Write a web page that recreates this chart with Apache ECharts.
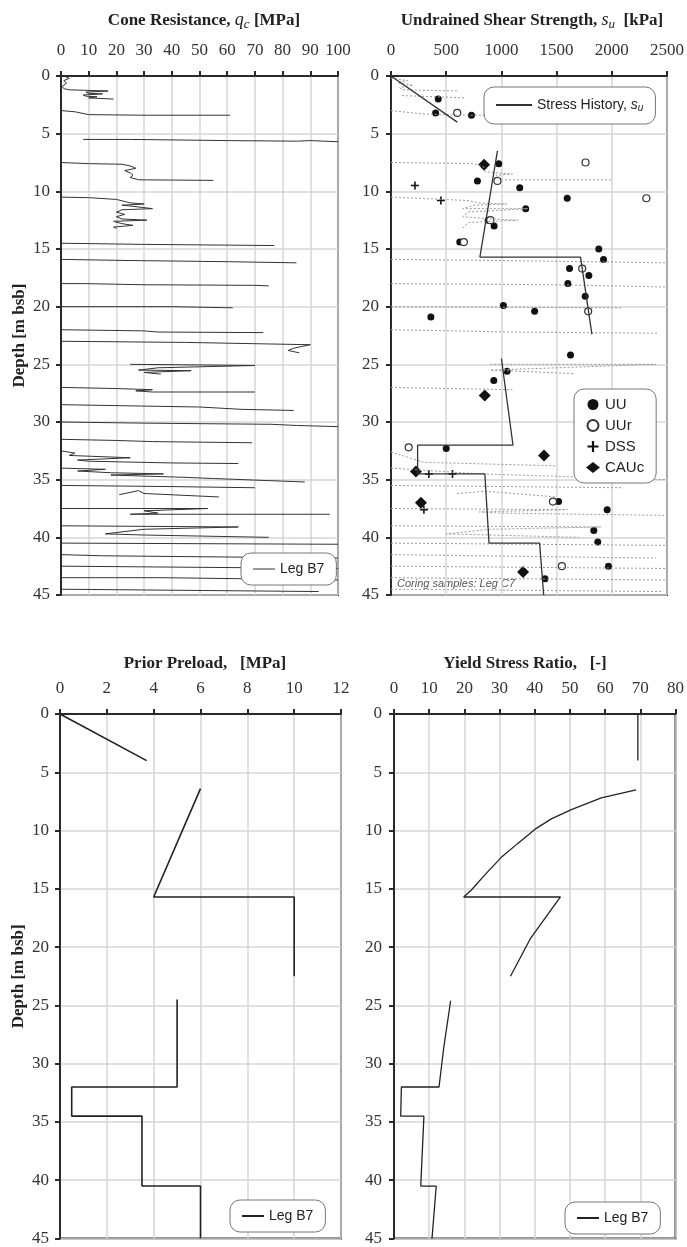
<!DOCTYPE html>
<html>
<head>
<meta charset="utf-8">
<script src="https://cdn.jsdelivr.net/npm/echarts@6/dist/echarts.min.js"></script>
<style>
html, body { margin: 0; padding: 0; background: #fff; }
#chart { width: 687px; height: 1247px; }
</style>
</head>
<body>
<div id="chart"></div>
<script>
// depth ticks shared by all four panels
var depthMin = 0, depthMax = 45, depthStep = 5;

// cone resistance trace, Leg B7 : [qc MPa, depth m], null = break between pushes
var coneProfile = [
  [1,0],[3,0.2],[1,0.4],[2,0.6],[0.5,0.9],[1,1.1],[3,1.2],[17,1.3],[9,1.4],[10,1.5],[15,1.55],[8,1.65],[9,1.75],[13,1.8],[10,1.9],[19,2.0], null,
  [0,3.0],[5,3.1],[9,3.3],[10,3.35],[30,3.4],[61,3.4], null,
  [8,5.5],[25,5.5],[60,5.6],[85,5.65],[90,5.6],[100,5.7], null,
  [0,7.5],[10,7.6],[22,7.65],[25,7.8],[27,8.0],[23,8.2],[25,8.4],[26,8.6],[25,8.8],[28,9.0],[55,9.05], null,
  [0,10.5],[10,10.55],[20,10.7],[25,11.0],[30,11.1],[22,11.2],[26,11.3],[33,11.5],[22,11.6],[20,11.8],[23,12.0],[20,12.2],[22,12.4],[31,12.5],[19,12.6],[22,12.8],[26,12.95],[19,13.1],[20,13.2], null,
  [0,14.5],[30,14.6],[77,14.7], null,
  [0,15.9],[25,16.0],[43,16.05],[60,16.1],[85,16.2], null,
  [0,18.0],[8,18.0],[30,18.1],[70,18.15],[75,18.2], null,
  [0,20.0],[40,20.0],[62,20.1], null,
  [0,22.0],[30,22.1],[35,22.2],[73,22.25], null,
  [0,23.0],[45,23.1],[90,23.3],[84,23.6],[82,23.8],[86,24.0], null,
  [25,25.0],[50,25.05],[70,25.1],[35,25.3],[28,25.5],[47,25.55],[30,25.7],[36,25.85], null,
  [0,27.0],[20,27.1],[33,27.2],[27,27.3],[33,27.4],[70,27.4], null,
  [0,28.5],[25,28.6],[50,28.7],[65,28.9],[84,29.0], null,
  [0,30.0],[30,30.1],[76,30.2],[85,30.3],[100,30.4], null,
  [0,31.5],[20,31.6],[33,31.7],[69,31.8], null,
  [0,32.5],[5,32.7],[3,32.9],[25,33.1],[6,33.3],[10,33.4],[40,33.55],[64,33.6], null,
  [0,34.0],[16,34.1],[6,34.25],[18,34.4],[37,34.5],[18,34.6],[45,34.8],[55,34.9],[88,35.2], null,
  [0,35.5],[40,35.6],[70,35.7], null,
  [21,36.3],[28,35.95],[30,36.2],[57,36.5], null,
  [0,37.5],[53,37.5],[30,37.7],[35,37.9],[25,38.0],[97,38.0], null,
  [0,39.0],[64,39.1],[30,39.3],[16,39.7],[30,39.8],[75,40.0], null,
  [0,40.5],[100,40.6], null,
  [0,41.5],[15,41.6],[100,41.8], null,
  [0,42.5],[100,42.7], null,
  [0,43.5],[37,43.5],[100,43.7], null,
  [0,44.5],[93,44.7]
];

// CPT derived su (grey dotted background) : [su kPa, depth m]
var suProfile = [
  [0,0.2],[150,0.4],[60,0.6],[200,0.8],[80,1.0],[100,1.2],[600,1.3], null,
  [100,1.7],[400,1.8],[680,1.9], null,
  [0,3.0],[300,3.3],[700,3.4],[970,3.4], null,
  [0,7.5],[750,7.6],[870,8.0],[850,8.3],[1100,8.5],[950,8.6],[1010,9.0],[2010,9.0], null,
  [0,10.5],[700,10.8],[800,11.0],[1050,11.1],[750,11.2],[650,11.5],[1240,11.5],[700,11.8],[650,12.2],[900,12.4],[1150,12.5],[700,12.7],[650,13.2], null,
  [0,15.9],[1000,16.0],[2500,16.2], null,
  [0,18.0],[1500,18.1],[2500,18.3], null,
  [0,20.0],[2100,20.1], null,
  [0,22.0],[1100,22.2],[2430,22.3], null,
  [900,25.0],[2400,25.0],[900,25.5],[1650,25.8], null,
  [0,27.0],[1100,27.2], null,
  [0,32.6],[300,33.5],[1500,33.8], null,
  [0,34.0],[800,34.5],[2500,35.0], null,
  [0,35.5],[2100,35.7], null,
  [600,36.2],[850,36.0],[1500,36.5], null,
  [0,37.5],[1600,37.6],[800,37.8],[1000,37.9],[2480,38.1], null,
  [0,39.0],[1900,39.1],[900,39.3],[500,39.7],[1700,40.0], null,
  [0,40.5],[2500,40.7], null,
  [0,41.5],[2400,41.8], null,
  [0,42.5],[2500,42.7], null,
  [0,43.5],[2500,43.7], null,
  [0,44.5],[2450,44.7]
];

// stress history su profile : [su kPa, depth m]
var stressHistory = [
  [0,0],[600,4.0], null,
  [964,6.5],[805,15.7],[1717,15.7],[1820,22.4], null,
  [1000,24.5],[1105,32.0],[241,32.0],[241,34.5],[850,34.5],[888,40.5],[1346,40.5],[1383,45]
];

// lab tests (coring samples, Leg C7)
var uuSu    = [428,404,729,976,783,1166,1596,1220,880,934,623,1882,1925,1617,1792,1602,1759,1018,361,1301,1626,1051,931,500,1518,1958,1837,1873,1970,1395];
var uuDepth = [2.0,3.2,3.4,7.6,9.1,9.7,10.6,11.5,12.5,13.0,14.4,15.0,15.9,16.7,17.3,18.0,19.1,19.9,20.9,20.4,24.2,25.6,26.4,32.3,36.9,37.6,39.4,40.4,42.5,43.6];
var uurSu    = [600,1762,964,2313,900,660,1732,1786,160,1467,1548];
var uurDepth = [3.2,7.5,9.1,10.6,12.5,14.4,16.7,20.4,32.2,36.9,42.5];
var dssSu    = [217,452,343,557,298];
var dssDepth = [9.5,10.8,34.5,34.5,37.6];
var caucSu    = [843,849,1386,226,271,1196];
var caucDepth = [7.7,27.7,32.9,34.3,37.0,43.0];

// prior preload [MPa, depth m]
var preload = [
  [0,0],[3.7,4.0], null,
  [6.0,6.4],[4.0,15.7],[10.0,15.7],[10.0,22.5], null,
  [5.0,24.5],[5.0,32.0],[0.5,32.0],[0.5,34.5],[3.5,34.5],[3.5,40.5],[6.0,40.5],[6.0,45]
];

// yield stress ratio [-, depth m]
var yieldRatio = [
  [69.3,0],[69.3,4.0], null,
  [68.8,6.5],[58.9,7.2],[50.4,8.2],[44.7,9.0],[40.0,9.9],[35.2,11.1],[30.5,12.3],[25.8,13.8],[22.0,15.1],[19.8,15.7],[47.3,15.7],[38.7,19.3],[33.1,22.5], null,
  [16.1,24.6],[14.1,28.7],[12.8,32.0],[2.1,32.0],[1.9,34.5],[8.5,34.5],[7.6,40.5],[12.0,40.5],[10.8,45]
];

function zip(xs, ys) {
  return xs.map(function (x, i) { return [x, ys[i]]; });
}

var serif = '"Liberation Serif", "DejaVu Serif", serif';
var sans = '"Liberation Sans", Arial, sans-serif';
var ink = '#2a2a2a';
var plain = function (v) { return String(v); };

function xAx(idx, max, step, margin) {
  return {
    gridIndex: idx, type: 'value', position: 'top',
    min: 0, max: max, interval: step,
    axisLine: { show: true, lineStyle: { color: ink, width: 2 } },
    axisTick: { show: true, length: 5, lineStyle: { color: ink, width: 2 } },
    axisLabel: { margin: margin, fontFamily: serif, fontSize: 17, color: '#333', formatter: plain },
    splitLine: { show: true, lineStyle: { color: '#d6d6d6', width: 1.5 } }
  };
}
function yAx(idx, name, margin) {
  return {
    gridIndex: idx, type: 'value', inverse: true,
    min: depthMin, max: depthMax, interval: depthStep,
    name: name, nameLocation: 'middle', nameGap: 33, nameRotate: 90,
    nameTextStyle: { fontFamily: serif, fontSize: 17, fontWeight: 'bold', color: '#222' },
    axisLine: { show: true, lineStyle: { color: ink, width: 2 } },
    axisTick: { show: true, length: 5, lineStyle: { color: ink, width: 2 } },
    axisLabel: { margin: margin, fontFamily: serif, fontSize: 17, color: '#333', formatter: plain },
    splitLine: { show: true, lineStyle: { color: '#d6d6d6', width: 1.5 } }
  };
}

var legendBox = {
  backgroundColor: '#fff', borderColor: '#777', borderWidth: 1, borderRadius: 10,
  padding: [9, 12], itemWidth: 22, itemHeight: 2, icon: 'rect',
  textStyle: { fontFamily: sans, fontSize: 14, color: '#222' }
};
function legend(extra) { return Object.assign({}, legendBox, extra); }

var titleRich = {
  i: { fontFamily: serif, fontSize: 18, fontStyle: 'italic', fontWeight: 'normal', color: '#222' },
  sub: { fontFamily: serif, fontSize: 13, fontStyle: 'italic', fontWeight: 'normal', color: '#222', padding: [8, 0, 0, 0] }
};
function title(text, x, y) {
  return {
    text: text, left: x, top: y, textAlign: 'center',
    textStyle: { fontFamily: serif, fontSize: 17, fontWeight: 'bold', color: '#222', rich: titleRich }
  };
}

var myChart = echarts.init(document.getElementById('chart'));

var option = {
  backgroundColor: '#fff',
  animation: false,
  title: [
    title('Cone Resistance, {i|q}{sub|c} [MPa]', 199, 5),
    title('Undrained Shear Strength, {i|s}{sub|u}  [kPa]', 527, 5),
    title('Prior Preload,   [MPa]', 200, 650),
    title('Yield Stress Ratio,   [-]', 520, 650)
  ],
  grid: [
    { left: 61, top: 76, width: 277, height: 519, show: true, borderColor: ink, borderWidth: 2 },
    { left: 391, top: 76, width: 277, height: 519, show: true, borderColor: ink, borderWidth: 2 },
    { left: 60, top: 714, width: 281, height: 527, show: true, borderColor: ink, borderWidth: 2 },
    { left: 394, top: 714, width: 282, height: 527, show: true, borderColor: ink, borderWidth: 2 }
  ],
  xAxis: [
    xAx(0, 100, 10, 17),
    xAx(1, 2500, 500, 17),
    xAx(2, 12, 2, 17),
    xAx(3, 80, 10, 17)
  ],
  yAxis: [
    yAx(0, 'Depth [m bsb]', 11),
    yAx(1, '', 12),
    yAx(2, 'Depth [m bsb]', 11),
    yAx(3, '', 12)
  ],
  legend: [
    legend({ data: ['qc'], left: 241, top: 553, formatter: function () { return 'Leg B7'; } }),
    legend({
      data: ['Stress History'], left: 484, top: 87, padding: [11, 12], itemWidth: 36,
      formatter: function () { return 'Stress History, {s|s}{u|u}'; },
      textStyle: {
        fontFamily: sans, fontSize: 14, color: '#222',
        rich: {
          s: { fontFamily: sans, fontSize: 14, fontStyle: 'italic', color: '#222' },
          u: { fontFamily: sans, fontSize: 10, fontStyle: 'italic', color: '#222', padding: [6, 0, 0, 0] }
        }
      }
    }),
    {
      data: ['UU', 'UUr', 'DSS', 'CAUc'], orient: 'vertical', left: 574, top: 389,
      backgroundColor: '#fff', borderColor: '#777', borderWidth: 1, borderRadius: 10,
      padding: [8, 12], itemGap: 6, itemWidth: 14, itemHeight: 11,
      textStyle: { fontFamily: sans, fontSize: 15, color: '#222' }
    },
    legend({ data: ['preload'], left: 230, top: 1200, formatter: function () { return 'Leg B7'; } }),
    legend({ data: ['ysr'], left: 565, top: 1202, formatter: function () { return 'Leg B7'; } })
  ],
  graphic: [
    {
      type: 'text', left: 397, top: 578,
      style: { text: 'Coring samples: Leg C7', fontFamily: sans, fontSize: 11, fontStyle: 'italic', fill: '#555' }
    }
  ],
  series: [
    {
      name: 'qc', type: 'line', xAxisIndex: 0, yAxisIndex: 0, data: coneProfile,
      symbol: 'none', connectNulls: false,
      lineStyle: { color: '#333', width: 1 }, itemStyle: { color: '#999' }
    },
    {
      name: 'su CPT', type: 'line', xAxisIndex: 1, yAxisIndex: 1, data: suProfile,
      symbol: 'none', connectNulls: false, silent: true,
      lineStyle: { color: '#9a9a9a', width: 1, type: [2, 2] }
    },
    {
      name: 'Stress History', type: 'line', xAxisIndex: 1, yAxisIndex: 1, data: stressHistory,
      symbol: 'none', connectNulls: false,
      lineStyle: { color: '#333', width: 1.3 }, itemStyle: { color: '#333' }
    },
    {
      name: 'UU', type: 'scatter', xAxisIndex: 1, yAxisIndex: 1, data: zip(uuSu, uuDepth),
      symbol: 'circle', symbolSize: 7, itemStyle: { color: '#111', opacity: 1 }
    },
    {
      name: 'UUr', type: 'scatter', xAxisIndex: 1, yAxisIndex: 1, data: zip(uurSu, uurDepth),
      symbol: 'circle', symbolSize: 7, itemStyle: { color: '#fff', borderColor: '#333', borderWidth: 1.2, opacity: 1 }
    },
    {
      name: 'DSS', type: 'scatter', xAxisIndex: 1, yAxisIndex: 1, data: zip(dssSu, dssDepth),
      symbol: 'path://M4,0h2v4h4v2h-4v4h-2v-4h-4v-2h4z', symbolSize: 8, itemStyle: { color: '#111', opacity: 1 }
    },
    {
      name: 'CAUc', type: 'scatter', xAxisIndex: 1, yAxisIndex: 1, data: zip(caucSu, caucDepth),
      symbol: 'diamond', symbolSize: 12, itemStyle: { color: '#111', opacity: 1 }
    },
    {
      name: 'preload', type: 'line', xAxisIndex: 2, yAxisIndex: 2, data: preload,
      symbol: 'none', connectNulls: false,
      lineStyle: { color: '#222', width: 1.6 }, itemStyle: { color: '#222' }
    },
    {
      name: 'ysr', type: 'line', xAxisIndex: 3, yAxisIndex: 3, data: yieldRatio,
      symbol: 'none', connectNulls: false,
      lineStyle: { color: '#222', width: 1.3 }, itemStyle: { color: '#222' }
    }
  ]
};

myChart.setOption(option);
</script>
</body>
</html>
